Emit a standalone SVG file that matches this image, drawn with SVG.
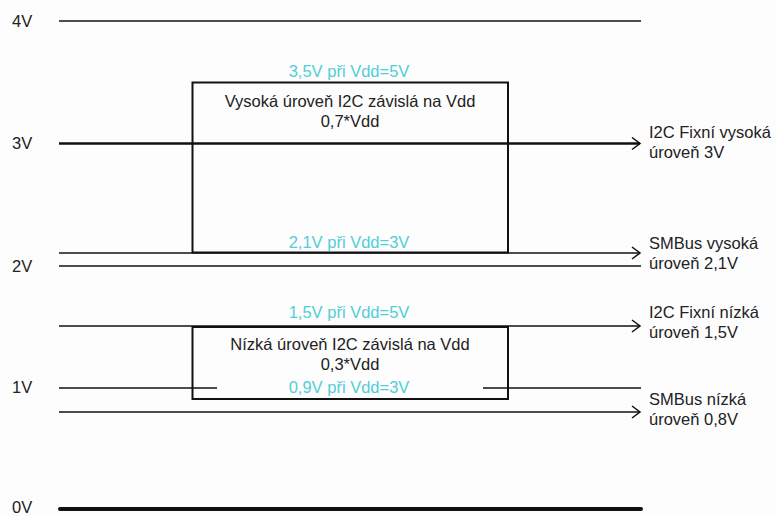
<svg xmlns="http://www.w3.org/2000/svg" width="776" height="516" viewBox="0 0 776 516">
<style>
text{font-family:"Liberation Sans",Arial,sans-serif;font-size:16.5px;fill:#222}
.c{fill:#4fcfd6}
.m{text-anchor:middle}
.ln{stroke:#111;fill:none;stroke-width:1.5}
.box{stroke:#111;fill:none;stroke-width:2}
</style>
<defs>
<marker id="ar" markerWidth="12" markerHeight="14" refX="10" refY="7" orient="auto" markerUnits="userSpaceOnUse">
<path d="M2,1 L10,7 L2,13" fill="none" stroke="#111" stroke-width="1.5"/>
</marker>
</defs>
<rect width="776" height="516" fill="#fdfdfd"/>
<g id="axis-labels">
<text x="12" y="27">4V</text>
<text x="12" y="149">3V</text>
<text x="12" y="272">2V</text>
<text x="12" y="393">1V</text>
<text x="12" y="513">0V</text>
</g>
<g id="high-box">
<rect class="box" x="192.5" y="82.5" width="315.5" height="170"/>
<text class="m" x="350" y="107">Vysoká úroveň I2C závislá na Vdd</text>
<text class="m" x="350" y="127">0,7*Vdd</text>
<text class="c m" x="349" y="77">3,5V při Vdd=5V</text>
<text class="c m" x="349" y="248">2,1V při Vdd=3V</text>
</g>
<g id="low-box">
<rect class="box" x="192.5" y="327" width="315.5" height="72"/>
<text class="m" x="350" y="350">Nízká úroveň I2C závislá na Vdd</text>
<text class="m" x="350" y="370">0,3*Vdd</text>
<text class="c m" x="349" y="318">1,5V při Vdd=5V</text>
<text class="c m" x="349" y="393">0,9V při Vdd=3V</text>
</g>
<g id="connectors">
<line class="ln" x1="59" y1="21" x2="641" y2="21"/>
<line class="ln" x1="59" y1="143.5" x2="640" y2="143.5" style="stroke-width:2.5" marker-end="url(#ar)"/>
<line class="ln" x1="59" y1="253" x2="640" y2="253" marker-end="url(#ar)"/>
<line class="ln" x1="59" y1="266" x2="641" y2="266"/>
<line class="ln" x1="59" y1="326" x2="640" y2="326" marker-end="url(#ar)"/>
<line class="ln" x1="59" y1="388" x2="217" y2="388"/>
<line class="ln" x1="483" y1="388" x2="641" y2="388"/>
<line class="ln" x1="59" y1="412" x2="640" y2="412" marker-end="url(#ar)"/>
<line x1="60" y1="509" x2="641" y2="509" stroke="#111" stroke-width="4" stroke-linecap="round"/>
</g>
<g id="right-labels">
<text x="649" y="138">I2C Fixní vysoká</text>
<text x="649" y="158">úroveň 3V</text>
<text x="649" y="249">SMBus vysoká</text>
<text x="649" y="269">úroveň 2,1V</text>
<text x="649" y="318">I2C Fixní nízká</text>
<text x="649" y="338">úroveň 1,5V</text>
<text x="649" y="405">SMBus nízká</text>
<text x="649" y="425">úroveň 0,8V</text>
</g>
</svg>
